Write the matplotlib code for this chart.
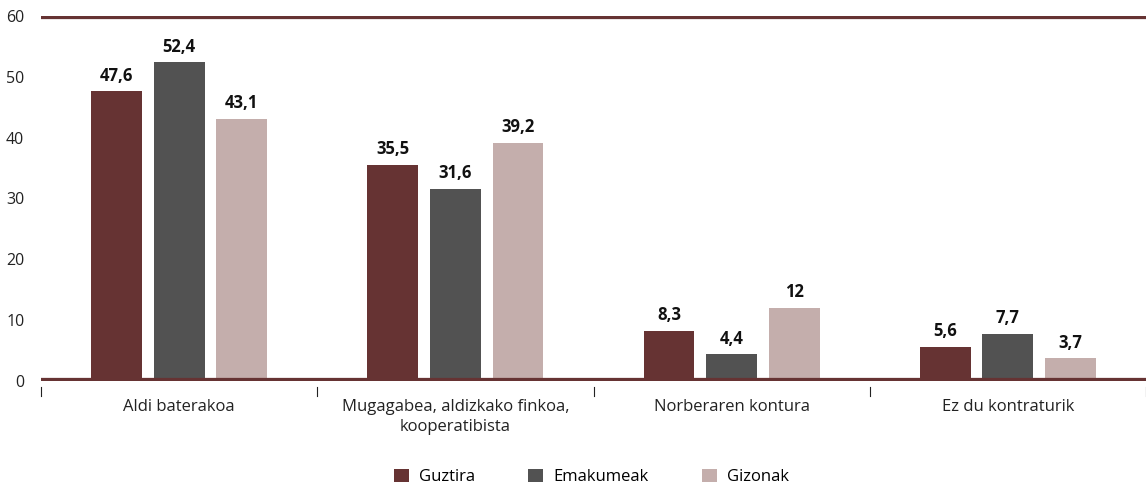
import matplotlib
matplotlib.use("Agg")
import matplotlib.pyplot as plt
import numpy as np

plt.rcParams["font.family"] = ["Open Sans", "DejaVu Sans"]

categories = ["Aldi baterakoa", "Mugagabea, aldizkako finkoa,\nkooperatibista",
              "Norberaren kontura", "Ez du kontraturik"]
series = ["Guztira", "Emakumeak", "Gizonak"]
guztira = [47.6, 35.5, 8.3, 5.6]
emakumeak = [52.4, 31.6, 4.4, 7.7]
gizonak = [43.1, 39.2, 12, 3.7]
colors = ["#663333", "#525252", "#c4aeac"]


def fmt(v):
    return f"{v:g}".replace(".", ",")


fig = plt.figure(figsize=(11.46, 4.88), dpi=100)
ax = fig.add_axes([41 / 1146, 1 - 381 / 488, 1 - 41 / 1146, (381 - 16) / 488])

x = np.arange(len(categories))
w = 0.184
step = 0.227
for i, (vals, name) in enumerate(zip([guztira, emakumeak, gizonak], series)):
    pos = x + (i - 1) * step
    ax.bar(pos, vals, width=w, color=colors[i], label=name, zorder=2)
    for px, v in zip(pos, vals):
        ax.text(px, v + 1.1, fmt(v), ha="center", va="bottom",
                fontsize=12, fontweight="bold", color="#111111")

ax.set_xlim(-0.5, len(categories) - 0.5)
ax.set_ylim(0, 60)
ax.set_yticks(range(0, 61, 10))
ax.axhline(60, color="#663333", lw=4.5, zorder=3)
ax.axhline(0, color="#663333", lw=4.5, zorder=3)
for s in ax.spines.values():
    s.set_visible(False)

ax.tick_params(axis="y", length=0, labelsize=11.5, pad=12, colors="#222222")
ax.set_xticks(x)
ax.set_xticklabels(categories, fontsize=12, color="#222222", linespacing=1.35)
ax.tick_params(axis="x", length=0, pad=13)
for b in np.arange(-0.5, len(categories), 1.0):
    ax.plot([b, b], [-1.0, -2.4], color="#222222", lw=0.8, clip_on=False)

fig.legend(loc="lower center", bbox_to_anchor=(0.516, -0.025), ncol=3, frameon=False,
           fontsize=12, handlelength=0.9, handleheight=0.9, columnspacing=3.2,
           handletextpad=0.6)

fig.savefig("out.png", dpi=100)
